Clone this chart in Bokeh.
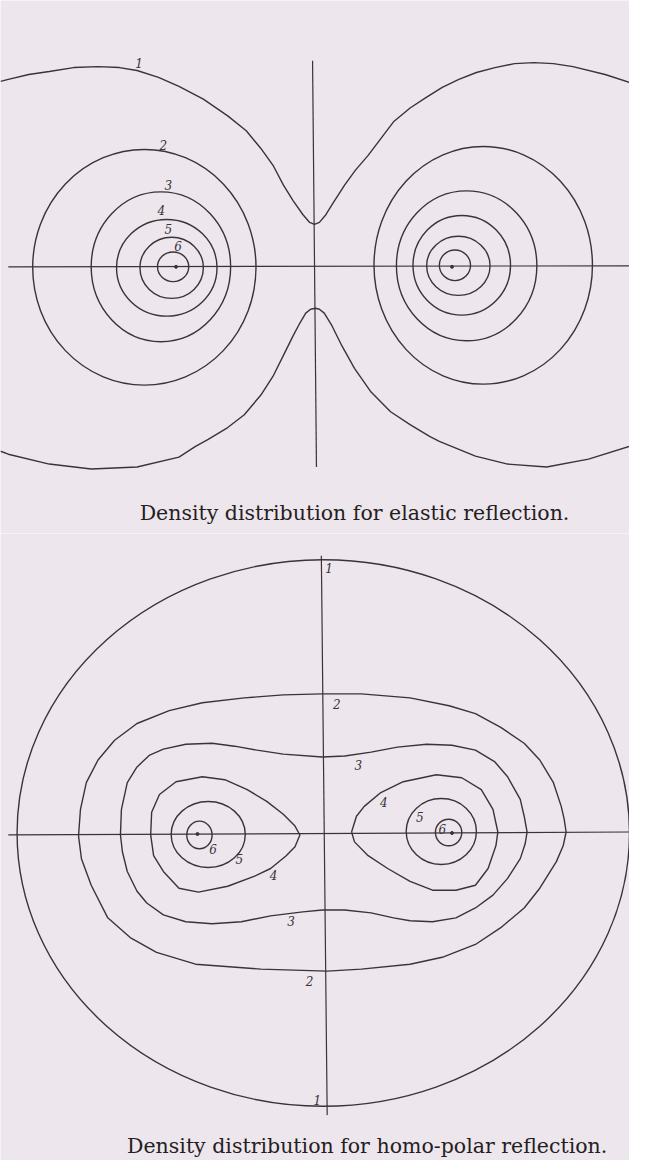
from bokeh.plotting import figure
from bokeh.layouts import column
from bokeh.models import Range1d
from bokeh.core.properties import value
from bokeh.embed import file_html
from bokeh.resources import INLINE

# ---------------- Panel 1: elastic reflection (origin = axis crossing, y up) ----------------
el_ring_x = [-174.5, -157.5, -151.5, -146.5, -145, 173, 156, 151, 147.5, 144]
el_ring_y = [-0.5, 0, -1, -1, 0, 1.5, 1, 1.5, 1, 1.5]
el_ring_w = [229, 143, 103, 65, 32, 224, 144, 100, 65, 32]
el_ring_h = [239, 152, 98, 62, 30, 241, 152, 101, 60, 31]
el_dot_x = [-142, 141]
el_dot_y = [0, 0]

el_c1_upper_x = [-322, -314, -293, -272, -247, -222, -200, -182, -160, -139, -114, -89, -70, -55, -42, -32,
                 -22, -12, -5, 0, 5, 11, 18, 31, 42, 55, 68, 81, 98, 115, 131, 148, 166, 185, 205,
                 225, 245, 265, 298, 323]
el_c1_upper_y = [188, 190, 195, 198, 202, 203, 202, 199, 192, 183, 170, 153, 138, 120, 102, 83,
                 67, 53, 45, 43, 45, 52, 63, 83, 98, 113, 130, 147, 161, 172, 182, 190, 197, 202, 206,
                 207, 206, 203, 195, 187]
el_c1_lower_x = [-322, -314, -272, -229, -182, -139, -122, -109, -89, -72, -55, -42, -32, -22, -15, -9,
                 -4, 1, 5, 10, 18, 28, 41, 58, 78, 98, 118, 128, 165, 198, 238, 281, 323]
el_c1_lower_y = [-187, -190, -200, -205, -203, -193, -182, -175, -163, -150, -130, -110, -90, -70, -57, -47,
                 -43, -42, -43, -47, -60, -80, -103, -127, -147, -160, -172, -177, -192, -200, -203, -195, -182]

el_axis_xs = [[-314, 323], [-2, 2]]
el_axis_ys = [[0, 1], [209, -203]]

el_label_x = [-180, -155, -150, -157, -150, -140]
el_label_y = [207, 124, 83, 58, 38, 21]
el_label_t = ["1", "2", "3", "4", "5", "6"]
el_caption = ["Density distribution for elastic reflection."]
el_caption_x = [41]
el_caption_y = [-250]

# ---------------- Panel 2: homo-polar reflection ----------------
hp_ring_x = [-1, -119, 120, -128, 127.5]
hp_ring_y = [1, -0.5, 2.5, -1, 1.5]
hp_ring_w = [628, 76, 72, 26, 27]
hp_ring_h = [554, 67, 67, 28, 27]
hp_dot_x = [-130, 131]
hp_dot_y = [0, 1]

hp_c2_x = [-2, 38, 88, 128, 155, 181, 205, 221, 235, 243, 246, 248, 245, 238, 221, 205, 181, 155, 121, 88,
           38, 3, -65, -132, -172, -199, -222, -239, -249, -252, -250, -244, -232, -215, -192, -159, -125,
           -82, -42, -2]
hp_c2_y = [142, 142, 138, 130, 122, 108, 92, 75, 52, 28, 15, 2, -12, -28, -55, -75, -95, -112, -125, -132,
           -137, -139, -137, -132, -120, -105, -85, -52, -25, -2, 25, 52, 75, 95, 112, 125, 133,
           138, 141, 142]

hp_c3_x = [-2, 21, 48, 75, 105, 131, 155, 175, 188, 201, 205, 208, 206, 201, 188, 173, 155, 135, 111, 88,
           71, 48, 21, -2, -22, -55, -85, -115, -142, -165, -182, -192, -202, -207, -209, -208, -202,
           -192, -179, -165, -142, -115, -92, -69, -42, -2]
hp_c3_y = [78, 79, 83, 88, 91, 90, 85, 73, 58, 35, 18, 2, -10, -25, -45, -62, -75, -85, -89, -88,
           -85, -80, -77, -77, -79, -83, -89, -91, -89, -82, -70, -58, -38, -18, -1, 25, 52,
           68, 80, 86, 91, 92, 89, 85, 81, 78]

hp_c4l_x = [-178, -177, -169, -152, -125, -102, -79, -59, -42, -30, -25, -30, -39, -55, -72, -99, -129,
            -149, -165, -175, -178]
hp_c4l_y = [-1, 22, 40, 53, 58, 55, 45, 33, 20, 8, -1, -13, -22, -35, -43, -53, -59,
            -55, -38, -22, -1]
hp_c4r_x = [28, 33, 41, 58, 81, 115, 141, 161, 173, 178, 176, 168, 155, 135, 111, 88, 65, 45, 31, 28]
hp_c4r_y = [2, 18, 28, 42, 53, 60, 57, 45, 25, 2, -12, -35, -52, -57, -57, -48, -35, -22, -8, 2]

hp_axis_xs = [[-324, 313], [-3, 3]]
hp_axis_ys = [[-1, 2], [282, -285]]

hp_label_x = [5, 13, 35, 61, 98, 121, -114, -87, -52, -34, -15, -7]
hp_label_y = [270, 132, 70, 32, 17, 5, -15, -25, -42, -88, -149, -270]
hp_label_t = ["1", "2", "3", "4", "5", "6", "6", "5", "4", "3", "2", "1"]
hp_caption = ["Density distribution for homo-polar reflection."]
hp_caption_x = [44]
hp_caption_y = [-316]

# ---------------- styling ----------------
PAPER = "#ede6ec"
INK = "#3a3338"
TEXT_INK = "#241e22"
LW = 1.4
SERIF = "DejaVu Serif"


def make_fig(w, h, xr, yr):
    f = figure(width=w, height=h, x_range=Range1d(*xr), y_range=Range1d(*yr),
               output_backend="svg", toolbar_location=None, min_border=0,
               x_axis_location=None, y_axis_location=None)
    f.grid.visible = False
    f.outline_line_color = None
    f.background_fill_color = PAPER
    f.border_fill_color = PAPER
    return f


def draw_labels(f, xs, ys, ts):
    f.text(xs, ys, text=ts, text_font=value(SERIF), text_font_style="italic",
           text_font_size="12px", text_color=INK, text_align="center", text_baseline="middle")


def draw_caption(f, xs, ys, ts):
    f.text(xs, ys, text=ts, text_font=value(SERIF), text_font_size="20.5px",
           text_color=TEXT_INK, text_align="center", text_baseline="alphabetic")


p1 = make_fig(629, 533, (-322, 323), (-270.4, 270))
p1.multi_line(el_axis_xs, el_axis_ys, line_color=INK, line_width=1.2)
p1.ellipse(el_ring_x, el_ring_y, width=el_ring_w, height=el_ring_h,
           fill_alpha=0, line_color=INK, line_width=LW)
p1.line(el_c1_upper_x, el_c1_upper_y, line_color=INK, line_width=LW)
p1.line(el_c1_lower_x, el_c1_lower_y, line_color=INK, line_width=LW)
p1.scatter(el_dot_x, el_dot_y, size=3, color=INK)
draw_labels(p1, el_label_x, el_label_y, el_label_t)
draw_caption(p1, el_caption_x, el_caption_y, el_caption)

p2 = make_fig(629, 627, (-332, 313), (-331, 304.6))
p2.multi_line(hp_axis_xs, hp_axis_ys, line_color=INK, line_width=1.2)
p2.ellipse(hp_ring_x, hp_ring_y, width=hp_ring_w, height=hp_ring_h,
           fill_alpha=0, line_color=INK, line_width=LW)
p2.multi_line([hp_c2_x, hp_c3_x, hp_c4l_x, hp_c4r_x], [hp_c2_y, hp_c3_y, hp_c4l_y, hp_c4r_y],
              line_color=INK, line_width=LW)
p2.scatter(hp_dot_x, hp_dot_y, size=3, color=INK)
draw_labels(p2, hp_label_x, hp_label_y, hp_label_t)
draw_caption(p2, hp_caption_x, hp_caption_y, hp_caption)

p = column(p1, p2, spacing=0)
open("out.html", "w").write(file_html(p, INLINE))
